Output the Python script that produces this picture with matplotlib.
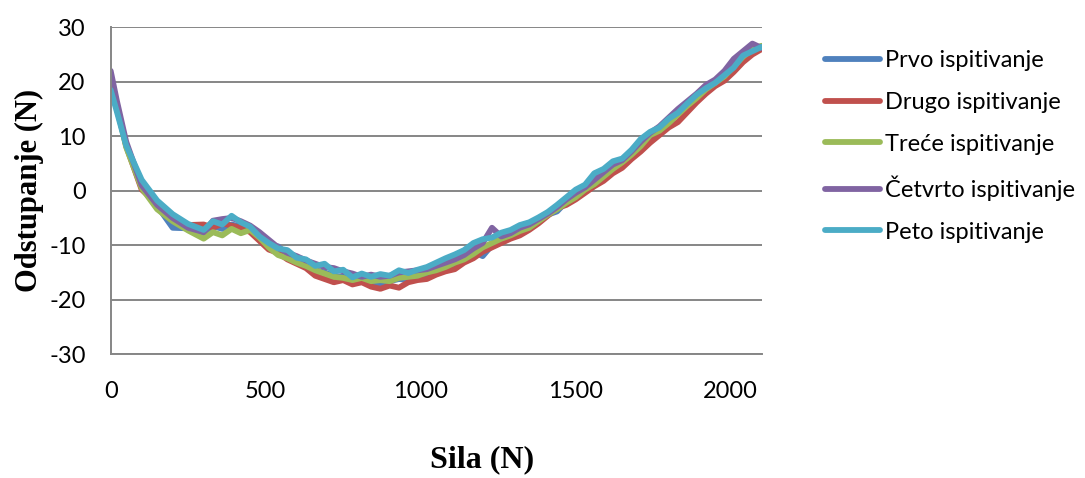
import matplotlib.pyplot as plt

plt.rcParams["axes.unicode_minus"] = False

# sila (N)
sila = [0, 20, 50, 100, 150, 200, 250,
        300, 330, 360, 390, 420, 450, 480, 510, 540, 570, 600, 630, 660, 690,
        720, 750, 780, 810, 840, 870, 900, 930, 960, 990, 1020, 1050, 1080,
        1110, 1140, 1170, 1200, 1230, 1260, 1290, 1320, 1350, 1380, 1410,
        1440, 1470, 1500, 1530, 1560, 1590, 1620, 1650, 1680, 1710, 1740,
        1770, 1800, 1830, 1860, 1890, 1920, 1950, 1980, 2010, 2040, 2070, 2100]

prvo = [19.5, 15.0, 8.5, 1.0, -2.8, -6.8, -6.9,
        -7.8, -6.5, -7.0, -6.2, -6.6, -7.0, -8.8, -10.2, -10.2, -11.8, -12.8, -13.4, -14.6, -15.0,
        -15.6, -15.8, -16.6, -16.4, -16.8, -17.0, -16.6, -16.2, -16.4, -15.6, -15.4, -14.8, -14.0,
        -13.6, -12.4, -11.2, -12.0, -10.0, -9.0, -8.4, -7.6, -6.8, -5.8, -4.4,
        -3.8, -2.0, -0.8, 0.4, 1.6, 2.8, 4.2, 5.0, 6.8, 8.6, 10.0,
        11.2, 12.8, 14.2, 15.6, 16.6, 18.8, 20.0, 21.4, 22.8, 24.4, 25.4, 26.2]

drugo = [21.0, 15.8, 8.2, 0.2, -2.4, -4.6, -6.3,
         -6.2, -6.8, -6.0, -6.4, -6.8, -7.6, -9.2, -10.8, -11.4, -12.6, -13.4, -14.2, -15.6, -16.2,
         -16.8, -16.4, -17.2, -16.8, -17.6, -18.0, -17.4, -17.8, -16.8, -16.4, -16.2, -15.4, -14.8,
         -14.4, -13.2, -12.4, -11.2, -10.4, -9.6, -8.8, -8.2, -7.2, -6.0, -4.6,
         -3.2, -2.6, -1.6, -0.4, 0.8, 1.8, 3.2, 4.2, 5.8, 7.2, 8.8,
         10.2, 11.6, 12.6, 14.4, 16.2, 17.8, 19.2, 20.2, 21.8, 23.6, 25.0, 26.0]

trece = [20.5, 15.5, 8.0, 0.5, -3.4, -5.6, -7.3,
         -8.8, -7.6, -8.2, -7.0, -7.8, -7.2, -8.6, -10.4, -11.8, -12.4, -13.2, -13.8, -14.6, -15.2,
         -15.8, -16.0, -16.4, -16.0, -16.6, -16.4, -16.6, -16.0, -15.8, -15.6, -15.0, -14.6, -14.0,
         -13.2, -12.6, -11.6, -10.4, -9.6, -8.8, -8.2, -7.4, -6.8, -5.6, -4.4,
         -3.4, -2.2, -1.2, 0.2, 1.2, 2.6, 4.0, 5.2, 6.6, 8.2, 10.2,
         11.0, 12.4, 14.0, 15.6, 17.0, 18.6, 19.8, 21.0, 22.8, 24.6, 26.0, 26.6]

cetvrto = [22.0, 16.5, 9.0, 1.0, -2.6, -5.0, -6.8,
           -7.6, -5.5, -5.2, -5.0, -5.6, -6.4, -7.6, -9.0, -10.4, -11.4, -12.0, -12.8, -13.4, -14.0,
           -14.2, -14.8, -15.2, -15.8, -15.4, -15.8, -15.6, -15.0, -14.8, -14.6, -14.4, -13.8, -13.2,
           -12.6, -11.8, -10.6, -9.6, -6.8, -8.4, -7.8, -6.8, -6.2, -5.2, -4.2,
           -3.0, -1.6, -0.4, 0.6, 2.0, 3.4, 4.8, 5.6, 7.2, 9.0, 10.6,
           11.8, 13.4, 15.0, 16.4, 17.8, 19.4, 20.4, 22.0, 24.2, 25.6, 27.0, 26.2]

peto = [18.5, 14.5, 8.3, 2.0, -1.8, -4.3, -6.1,
        -7.2, -5.6, -6.2, -4.6, -5.8, -6.6, -8.4, -9.6, -10.6, -10.9, -12.3, -12.6, -13.8, -13.4,
        -14.8, -14.5, -15.9, -15.2, -15.8, -15.3, -15.6, -14.6, -15.1, -14.5, -14.0, -13.2, -12.4,
        -11.7, -10.9, -9.6, -8.9, -8.6, -7.7, -7.2, -6.3, -5.8, -4.9, -3.9,
        -2.6, -1.2, 0.2, 1.1, 3.2, 4.0, 5.4, 5.9, 7.5, 9.5, 10.8,
        11.6, 13.2, 14.3, 16.0, 17.6, 18.8, 19.8, 21.2, 22.6, 24.8, 25.6, 26.4]

labels = ["Prvo ispitivanje", "Drugo ispitivanje", "Treće ispitivanje",
          "Četvrto ispitivanje", "Peto ispitivanje"]
colors = ["#4F81BD", "#C0504D", "#9BBB59", "#8064A2", "#4BACC6"]

fig = plt.figure(figsize=(10.85, 4.78), dpi=100)
ax = fig.add_axes([0.102, 0.259, 0.600, 0.684])

for y, lab, c in zip([prvo, drugo, trece, cetvrto, peto], labels, colors):
    ax.plot(sila, y, color=c, linewidth=4.2, label=lab,
            solid_joinstyle="round", solid_capstyle="round")

ax.set_xlim(0, 2100)
ax.set_ylim(-30, 30)
ax.set_xticks([0, 500, 1000, 1500, 2000])
ax.set_yticks([-30, -20, -10, 0, 10, 20, 30])
ax.yaxis.grid(True, color="#868686", linewidth=1.4)
ax.set_axisbelow(True)
for s in ["top", "right"]:
    ax.spines[s].set_visible(False)
for s in ["left", "bottom"]:
    ax.spines[s].set_color("#868686")
    ax.spines[s].set_linewidth(1.4)
ax.tick_params(axis="both", length=0, labelsize=17)
ax.tick_params(axis="y", pad=18)
ax.tick_params(axis="x", pad=19)
for t in ax.get_xticklabels() + ax.get_yticklabels():
    t.set_family("Lato")

ax.set_xlabel("Sila (N)", family="Liberation Serif", fontweight="bold", fontsize=23)
ax.set_ylabel("Odstupanje (N)", family="Liberation Serif", fontweight="bold", fontsize=22)
ax.xaxis.set_label_coords(0.57, -0.278)
ax.yaxis.set_label_coords(-0.102, 0.5)

fig.legend(loc="upper left", bbox_to_anchor=(0.752, 0.915), frameon=False,
           borderaxespad=0, prop={"family": "Lato", "size": 17},
           handlelength=2.33, handletextpad=0.21, labelspacing=0.88)

fig.savefig("out.png", dpi=100)
